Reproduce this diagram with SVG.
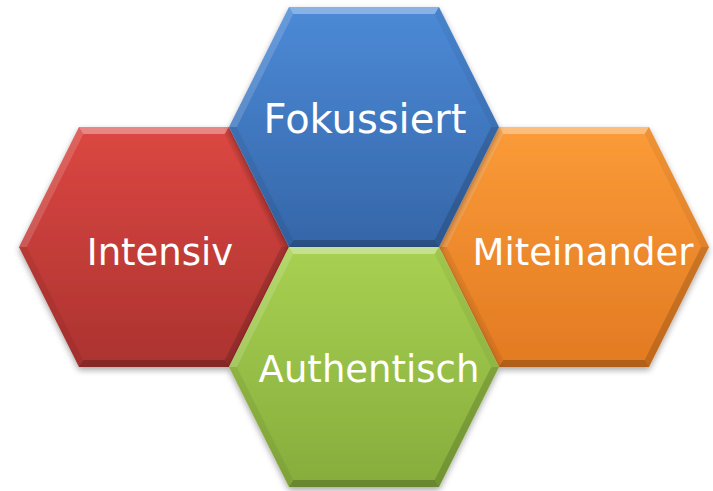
<svg xmlns="http://www.w3.org/2000/svg" xmlns:xlink="http://www.w3.org/1999/xlink" width="713" height="491" viewBox="0 0 713 491">
<style>
.label{font-family:"DejaVu Sans","Liberation Sans",sans-serif;font-size:37px;fill:#ffffff;text-anchor:middle}
.hex{filter:url(#shadow)}
</style>
<defs>
<filter id="shadow" x="-20%" y="-20%" width="140%" height="140%">
<feDropShadow dx="0" dy="3" stdDeviation="3" flood-color="#000" flood-opacity="0.35"/>
</filter>
<polygon id="hexShape" points="-135,0 -75,-120 75,-120 135,0 75,120 -75,120"/>
<g id="bevel">
<polygon points="-75,-120 75,-120 70.7,-113 -70.7,-113" fill="#fff" fill-opacity="0.35"/>
<polygon points="-135,0 -75,-120 -70.7,-113 -127.2,0" fill="#fff" fill-opacity="0.15"/>
<polygon points="135,0 75,-120 70.7,-113 127.2,0" fill="#000" fill-opacity="0.05"/>
<polygon points="-135,0 -75,120 -70.7,113 -127.2,0" fill="#000" fill-opacity="0.06"/>
<polygon points="135,0 75,120 70.7,113 127.2,0" fill="#000" fill-opacity="0.15"/>
<polygon points="-75,120 75,120 70.7,113 -70.7,113" fill="#000" fill-opacity="0.22"/>
</g>
<linearGradient id="gRed" x1="0" y1="0" x2="0" y2="1">
<stop offset="0" stop-color="#dc4742"/><stop offset="1" stop-color="#ab3330"/>
</linearGradient>
<linearGradient id="gBlue" x1="0" y1="0" x2="0" y2="1">
<stop offset="0" stop-color="#4c8ad7"/><stop offset="1" stop-color="#3566a8"/>
</linearGradient>
<linearGradient id="gOrange" x1="0" y1="0" x2="0" y2="1">
<stop offset="0" stop-color="#fb9b38"/><stop offset="1" stop-color="#e27a22"/>
</linearGradient>
<linearGradient id="gGreen" x1="0" y1="0" x2="0" y2="1">
<stop offset="0" stop-color="#a8d152"/><stop offset="1" stop-color="#86ad3c"/>
</linearGradient>
</defs>
<g id="connectors"></g>
<g id="node-intensiv" transform="translate(154,247)">
<use xlink:href="#hexShape" class="hex" fill="url(#gRed)"/>
<use xlink:href="#bevel"/>
<text class="label" x="6" y="18">Intensiv</text>
</g>
<g id="node-miteinander" transform="translate(574,247)">
<use xlink:href="#hexShape" class="hex" fill="url(#gOrange)"/>
<use xlink:href="#bevel"/>
<text class="label" x="9" y="18">Miteinander</text>
</g>
<g id="node-fokussiert" transform="translate(364,127)">
<use xlink:href="#hexShape" class="hex" fill="url(#gBlue)"/>
<use xlink:href="#bevel"/>
<text class="label" x="1" y="6" style="font-size:40px">Fokussiert</text>
</g>
<g id="node-authentisch" transform="translate(364,367)">
<use xlink:href="#hexShape" class="hex" fill="url(#gGreen)"/>
<use xlink:href="#bevel"/>
<text class="label" x="5" y="15">Authentisch</text>
</g>
</svg>
